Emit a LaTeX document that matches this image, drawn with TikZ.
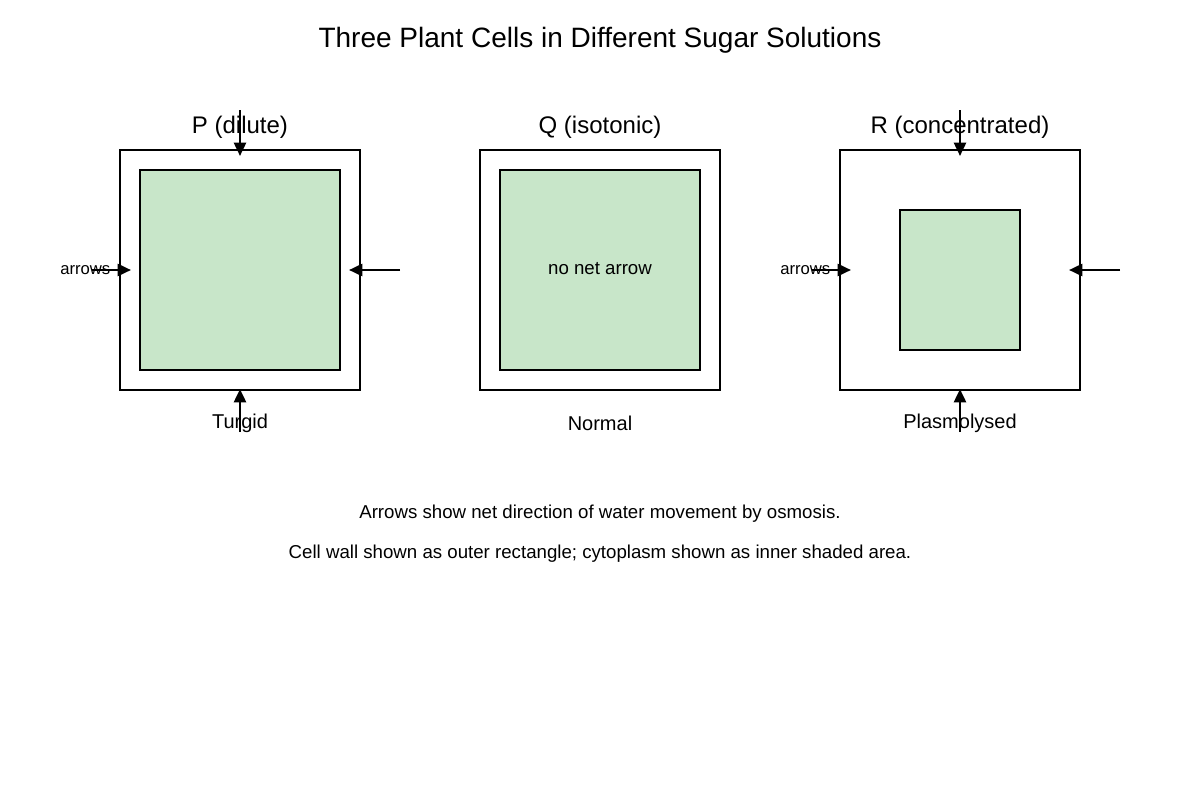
\documentclass[tikz,border=0pt]{standalone}
\usepackage{fontspec}
\setmainfont{Liberation Sans}
\usetikzlibrary{arrows.meta}
\definecolor{cyto}{HTML}{C8E6C9}
\begin{document}
\begin{tikzpicture}[x=0.75pt,y=-0.75pt,
  wall/.style={draw=black,line width=1.9pt},
  cyt/.style={draw=black,fill=cyto,line width=1.1pt},
  arr/.style={line width=1.9pt,-{Triangle[length=10pt,width=9pt]}},
  lab/.style={font=\fontsize{18}{20}\selectfont},
  celllab/.style={font=\fontsize{15}{17}\selectfont},
  sm/.style={font=\fontsize{12.5}{14}\selectfont}]
\useasboundingbox (0,0) rectangle (1200,800);
\node[font=\fontsize{21}{24}\selectfont] (title) at (600,40) {Three Plant Cells in Different Sugar Solutions};
% P
\draw[wall] (120,150) rectangle (360,390);
\draw[cyt] (140,170) rectangle (340,370);
\node[lab] (pl) at (240,127) {P (dilute)};
\node[celllab] (pt) at (240,423) {Turgid};
\node[sm,anchor=west,inner sep=0] (pa) at (60,270) {arrows};
\coordinate (p1) at (240,110); \coordinate (p1e) at (240,156);
\coordinate (p2) at (240,432); \coordinate (p2e) at (240,389);
\coordinate (p3) at (92,270); \coordinate (p3e) at (131,270);
\coordinate (p4) at (400,270); \coordinate (p4e) at (349,270);
\draw[arr] (p1)--(p1e); \draw[arr] (p2)--(p2e); \draw[arr] (p3)--(p3e); \draw[arr] (p4)--(p4e);
% Q
\draw[wall] (480,150) rectangle (720,390);
\draw[cyt] (500,170) rectangle (700,370);
\node[lab] (ql) at (600,127) {Q (isotonic)};
\node[celllab] (qt) at (600,423) {Normal};
\node[font=\fontsize{14}{16}\selectfont] (qn) at (600,269) {no net arrow};
% R
\draw[wall] (840,150) rectangle (1080,390);
\draw[cyt] (900,210) rectangle (1020,350);
\node[lab] (rl) at (960,127) {R (concentrated)};
\node[celllab] (rt) at (960,423) {Plasmolysed};
\node[sm,anchor=west,inner sep=0] (ra) at (780,270) {arrows};
\coordinate (r1) at (960,110); \coordinate (r1e) at (960,156);
\coordinate (r2) at (960,432); \coordinate (r2e) at (960,389);
\coordinate (r3) at (812,270); \coordinate (r3e) at (851,270);
\coordinate (r4) at (1120,270); \coordinate (r4e) at (1069,270);
\draw[arr] (r1)--(r1e); \draw[arr] (r2)--(r2e); \draw[arr] (r3)--(r3e); \draw[arr] (r4)--(r4e);
% footer
\node[font=\fontsize{14}{16}\selectfont] (f1) at (600,514) {Arrows show net direction of water movement by osmosis.};
\node[font=\fontsize{14}{16}\selectfont] (f2) at (600,554) {Cell wall shown as outer rectangle; cytoplasm shown as inner shaded area.};
\end{tikzpicture}
\end{document}
